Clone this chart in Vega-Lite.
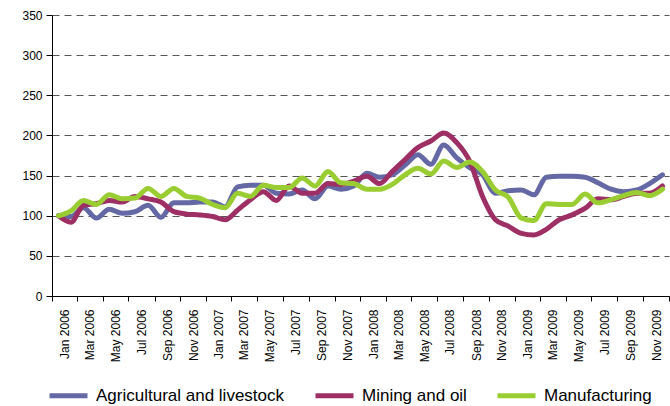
{
  "$schema": "https://vega.github.io/schema/vega-lite/v6.json",
  "width": 617,
  "height": 281,
  "autosize": {"type": "none"},
  "padding": {"left": 52, "top": 15, "right": 1, "bottom": 110},
  "background": "white",
  "config": {
    "view": {"stroke": null},
    "font": "Liberation Sans",
    "axis": {"labelFont": "Liberation Sans", "labelColor": "#000", "domainColor": "#000", "tickColor": "#000", "labelFontSize": 12}
  },
  "data": {
    "values": [
      {"month": "2006-01", "Agricultural and livestock": 100, "Mining and oil": 100, "Manufacturing": 100},
      {"month": "2006-02", "Agricultural and livestock": 99, "Mining and oil": 92, "Manufacturing": 106},
      {"month": "2006-03", "Agricultural and livestock": 110, "Mining and oil": 113, "Manufacturing": 119},
      {"month": "2006-04", "Agricultural and livestock": 97, "Mining and oil": 115, "Manufacturing": 114},
      {"month": "2006-05", "Agricultural and livestock": 108, "Mining and oil": 119, "Manufacturing": 126},
      {"month": "2006-06", "Agricultural and livestock": 103, "Mining and oil": 117, "Manufacturing": 121},
      {"month": "2006-07", "Agricultural and livestock": 105, "Mining and oil": 124, "Manufacturing": 122},
      {"month": "2006-08", "Agricultural and livestock": 113, "Mining and oil": 121, "Manufacturing": 134},
      {"month": "2006-09", "Agricultural and livestock": 98, "Mining and oil": 117, "Manufacturing": 124},
      {"month": "2006-10", "Agricultural and livestock": 116, "Mining and oil": 105, "Manufacturing": 134},
      {"month": "2006-11", "Agricultural and livestock": 116, "Mining and oil": 102, "Manufacturing": 124},
      {"month": "2006-12", "Agricultural and livestock": 117, "Mining and oil": 101, "Manufacturing": 122},
      {"month": "2007-01", "Agricultural and livestock": 117, "Mining and oil": 99, "Manufacturing": 114},
      {"month": "2007-02", "Agricultural and livestock": 111, "Mining and oil": 95, "Manufacturing": 110},
      {"month": "2007-03", "Agricultural and livestock": 136, "Mining and oil": 107, "Manufacturing": 128},
      {"month": "2007-04", "Agricultural and livestock": 138, "Mining and oil": 120, "Manufacturing": 124},
      {"month": "2007-05", "Agricultural and livestock": 138, "Mining and oil": 130, "Manufacturing": 138},
      {"month": "2007-06", "Agricultural and livestock": 128, "Mining and oil": 119, "Manufacturing": 135},
      {"month": "2007-07", "Agricultural and livestock": 127, "Mining and oil": 137, "Manufacturing": 135},
      {"month": "2007-08", "Agricultural and livestock": 132, "Mining and oil": 128, "Manufacturing": 147},
      {"month": "2007-09", "Agricultural and livestock": 121, "Mining and oil": 128, "Manufacturing": 137},
      {"month": "2007-10", "Agricultural and livestock": 137, "Mining and oil": 140, "Manufacturing": 155},
      {"month": "2007-11", "Agricultural and livestock": 133, "Mining and oil": 139, "Manufacturing": 141},
      {"month": "2007-12", "Agricultural and livestock": 137, "Mining and oil": 143, "Manufacturing": 140},
      {"month": "2008-01", "Agricultural and livestock": 153, "Mining and oil": 149, "Manufacturing": 133},
      {"month": "2008-02", "Agricultural and livestock": 148, "Mining and oil": 140, "Manufacturing": 133},
      {"month": "2008-03", "Agricultural and livestock": 151, "Mining and oil": 155, "Manufacturing": 139},
      {"month": "2008-04", "Agricultural and livestock": 163, "Mining and oil": 170, "Manufacturing": 151},
      {"month": "2008-05", "Agricultural and livestock": 176, "Mining and oil": 185, "Manufacturing": 159},
      {"month": "2008-06", "Agricultural and livestock": 164, "Mining and oil": 193, "Manufacturing": 152},
      {"month": "2008-07", "Agricultural and livestock": 188, "Mining and oil": 203, "Manufacturing": 168},
      {"month": "2008-08", "Agricultural and livestock": 172, "Mining and oil": 191, "Manufacturing": 160},
      {"month": "2008-09", "Agricultural and livestock": 160, "Mining and oil": 168, "Manufacturing": 167},
      {"month": "2008-10", "Agricultural and livestock": 151, "Mining and oil": 124, "Manufacturing": 155},
      {"month": "2008-11", "Agricultural and livestock": 128, "Mining and oil": 95, "Manufacturing": 132},
      {"month": "2008-12", "Agricultural and livestock": 131, "Mining and oil": 87, "Manufacturing": 123},
      {"month": "2009-01", "Agricultural and livestock": 132, "Mining and oil": 78, "Manufacturing": 97},
      {"month": "2009-02", "Agricultural and livestock": 126, "Mining and oil": 76, "Manufacturing": 94},
      {"month": "2009-03", "Agricultural and livestock": 148, "Mining and oil": 83, "Manufacturing": 115},
      {"month": "2009-04", "Agricultural and livestock": 149, "Mining and oil": 95, "Manufacturing": 114},
      {"month": "2009-05", "Agricultural and livestock": 149, "Mining and oil": 101, "Manufacturing": 114},
      {"month": "2009-06", "Agricultural and livestock": 148, "Mining and oil": 109, "Manufacturing": 127},
      {"month": "2009-07", "Agricultural and livestock": 141, "Mining and oil": 121, "Manufacturing": 116},
      {"month": "2009-08", "Agricultural and livestock": 133, "Mining and oil": 120, "Manufacturing": 120},
      {"month": "2009-09", "Agricultural and livestock": 130, "Mining and oil": 124, "Manufacturing": 125},
      {"month": "2009-10", "Agricultural and livestock": 132, "Mining and oil": 128, "Manufacturing": 129},
      {"month": "2009-11", "Agricultural and livestock": 140, "Mining and oil": 128, "Manufacturing": 125},
      {"month": "2009-12", "Agricultural and livestock": 151, "Mining and oil": 137, "Manufacturing": 133}
    ]
  },
  "transform": [
    {"fold": ["Agricultural and livestock", "Mining and oil", "Manufacturing"], "as": ["series", "value"]}
  ],
  "mark": {"type": "line", "strokeWidth": 5, "interpolate": "monotone", "strokeCap": "round", "strokeJoin": "round"},
  "encoding": {
    "x": {
      "field": "month",
      "type": "temporal",
      "timeUnit": "utcyearmonth",
      "bandPosition": 0.5,
      "scale": {"domain": [{"year": 2006, "month": 1, "date": 1, "utc": true}, {"year": 2010, "month": 1, "date": 1, "utc": true}]},
      "axis": {
        "title": null,
        "grid": false,
        "tickCount": {"interval": "month", "step": 2},
        "labelExpr": "utcyear(datum.value) >= 2010 ? '' : utcFormat(datum.value, '%b %Y')",
        "labelAngle": -90,
        "labelOffset": 12.85,
        "tickSize": 5,
        "labelPadding": 8,
        "labelFontSize": 12,
        "labelOverlap": false,
        "labelBound": false,
        "labelFlush": false
      }
    },
    "y": {
      "field": "value",
      "type": "quantitative",
      "scale": {"domain": [0, 350], "nice": false},
      "axis": {
        "title": null,
        "values": [0, 50, 100, 150, 200, 250, 300, 350],
        "grid": true,
        "gridColor": "#555",
        "gridDash": [7, 5],
        "gridWidth": 1,
        "tickSize": 6,
        "labelPadding": 4,
        "labelFontSize": 12
      }
    },
    "color": {
      "field": "series",
      "type": "nominal",
      "sort": ["Agricultural and livestock", "Mining and oil", "Manufacturing"],
      "scale": {"domain": ["Agricultural and livestock", "Mining and oil", "Manufacturing"], "range": ["#6468A4", "#9E2F64", "#9ACD32"]},
      "legend": {
        "title": null,
        "orient": "none",
        "direction": "horizontal",
        "legendX": -5,
        "legendY": 359,
        "symbolType": "stroke",
        "symbolSize": 1444,
        "symbolStrokeWidth": 5,
        "labelFontSize": 17,
        "labelFont": "Liberation Sans",
        "labelColor": "#000",
        "labelOffset": 6,
        "columnPadding": 20,
        "labelLimit": 300
      }
    }
  }
}
